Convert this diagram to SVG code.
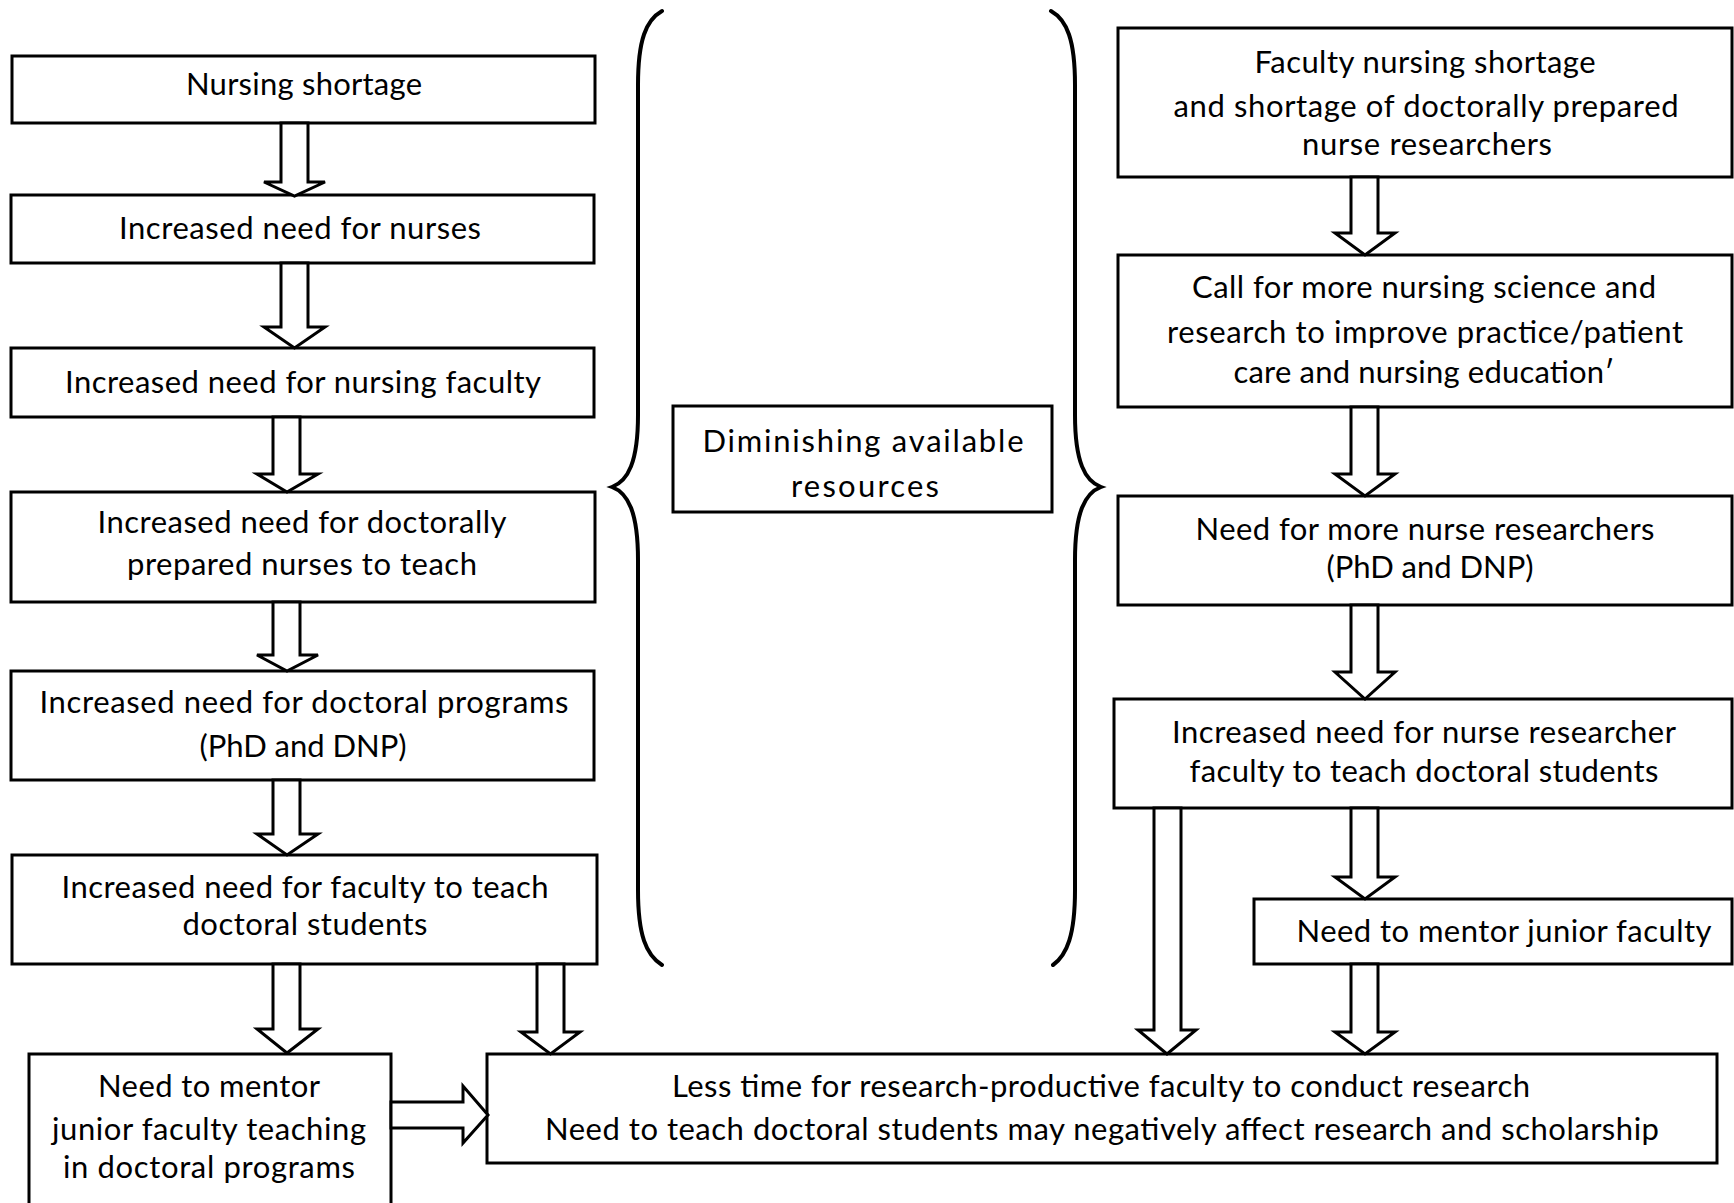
<svg xmlns="http://www.w3.org/2000/svg" width="1734" height="1203" viewBox="0 0 1734 1203">
<style>
.box{fill:#fff;stroke:#000;stroke-width:3}
.arr{fill:#fff;stroke:#000;stroke-width:3;stroke-linejoin:miter}
.brace{fill:none;stroke:#000;stroke-width:4;stroke-linecap:round}
text{font-family:Lato,"Liberation Sans",Arial,sans-serif;font-size:31px;fill:#000;text-anchor:middle}
</style>
<rect width="1734" height="1203" fill="#fff"/>
<g id="braces">
<path class="brace" d="M 662 11 C 646 20, 638 40, 638 85 L 638 415 C 638 462, 628 481, 612 487 C 628 493, 638 512, 638 560 L 638 890 C 638 935, 646 955, 662 965"/>
<path class="brace" d="M 1051 11 C 1067 20, 1075 40, 1075 85 L 1075 415 C 1075 462, 1085 481, 1101 487 C 1085 493, 1075 512, 1075 560 L 1075 890 C 1075 935, 1067 955, 1053 965"/>
</g>
<g id="n1"><rect class="box" x="12" y="56" width="583" height="67"/><text x="304" y="95" textLength="236">Nursing shortage</text></g>
<g id="n2"><rect class="box" x="11" y="195" width="583" height="68"/><text x="300" y="239" textLength="362">Increased need for nurses</text></g>
<g id="n3"><rect class="box" x="11" y="348" width="583" height="69"/><text x="303" y="393" textLength="476">Increased need for nursing faculty</text></g>
<g id="n4"><rect class="box" x="11" y="492" width="584" height="110"/><text x="302" y="533" textLength="409">Increased need for doctorally</text><text x="302" y="575" textLength="350">prepared nurses to teach</text></g>
<g id="n5"><rect class="box" x="11" y="671" width="583" height="109"/><text x="304" y="713" textLength="529">Increased need for doctoral programs</text><text x="303" y="757" textLength="207">(PhD and DNP)</text></g>
<g id="n6"><rect class="box" x="12" y="855" width="585" height="109"/><text x="305" y="898" textLength="487">Increased need for faculty to teach</text><text x="305" y="935" textLength="245">doctoral students</text></g>
<g id="n7"><rect class="box" x="29" y="1054" width="362" height="170"/><text x="209" y="1097" textLength="222">Need to mentor</text><text x="209" y="1140" textLength="314">junior faculty teaching</text><text x="209" y="1178" textLength="292">in doctoral programs</text></g>
<g id="n8"><rect class="box" x="487" y="1054" width="1230" height="109"/><text x="1101" y="1097" textLength="858">Less time for research-productive faculty to conduct research</text><text x="1102" y="1140" textLength="1114">Need to teach doctoral students may negatively affect research and scholarship</text></g>
<g id="n9"><rect class="box" x="673" y="406" width="379" height="106"/><text x="863" y="452" textLength="321">Diminishing available</text><text x="865" y="497" textLength="148">resources</text></g>
<g id="n10"><rect class="box" x="1118" y="28" width="614" height="149"/><text x="1425" y="73" textLength="341">Faculty nursing shortage</text><text x="1426" y="117" textLength="505">and shortage of doctorally prepared</text><text x="1427" y="155" textLength="250">nurse researchers</text></g>
<g id="n11"><rect class="box" x="1118" y="255" width="614" height="152"/><text x="1424" y="298" textLength="464">Call for more nursing science and</text><text x="1425" y="343" textLength="516">research to improve practice/patient</text><text x="1424" y="383" textLength="381">care and nursing education′</text></g>
<g id="n12"><rect class="box" x="1118" y="496" width="614" height="109"/><text x="1425" y="540" textLength="459">Need for more nurse researchers</text><text x="1430" y="578" textLength="207">(PhD and DNP)</text></g>
<g id="n13"><rect class="box" x="1114" y="699" width="618" height="109"/><text x="1424" y="743" textLength="504">Increased need for nurse researcher</text><text x="1424" y="782" textLength="469">faculty to teach doctoral students</text></g>
<g id="n14"><rect class="box" x="1254" y="899" width="478" height="65"/><text x="1504" y="942" textLength="415">Need to mentor junior faculty</text></g>
<g id="connectors">
<polygon class="arr" points="281,123 308,123 308,182 325,182 294.5,196 264,182 281,182"/>
<polygon class="arr" points="281,263 308,263 308,327 325,327 294.5,348 264,327 281,327"/>
<polygon class="arr" points="273,417 300,417 300,474 318,474 287,492 257,474 273,474"/>
<polygon class="arr" points="273,602 300,602 300,655 318,655 287,671 257,655 273,655"/>
<polygon class="arr" points="273,780 300,780 300,834 318,834 287,855 257,834 273,834"/>
<polygon class="arr" points="273,964 300,964 300,1029 318,1029 287,1053 257,1029 273,1029"/>
<polygon class="arr" points="537,964 564,964 564,1032 580,1032 550.5,1054 521,1032 537,1032"/>
<polygon class="arr" points="391,1102 463,1102 463,1086 488,1115 463,1143 463,1128 391,1128"/>
<polygon class="arr" points="1351,177 1378,177 1378,233 1395,233 1365,255 1335,233 1351,233"/>
<polygon class="arr" points="1351,407 1378,407 1378,474 1395,474 1365,496 1335,474 1351,474"/>
<polygon class="arr" points="1351,605 1378,605 1378,672 1395,672 1365,699 1335,672 1351,672"/>
<polygon class="arr" points="1351,808 1378,808 1378,877 1395,877 1365,899 1335,877 1351,877"/>
<polygon class="arr" points="1351,964 1378,964 1378,1032 1395,1032 1365,1054 1335,1032 1351,1032"/>
<polygon class="arr" points="1154,808 1181,808 1181,1030 1196,1030 1167,1054 1138,1030 1154,1030"/>
</g>
</svg>
